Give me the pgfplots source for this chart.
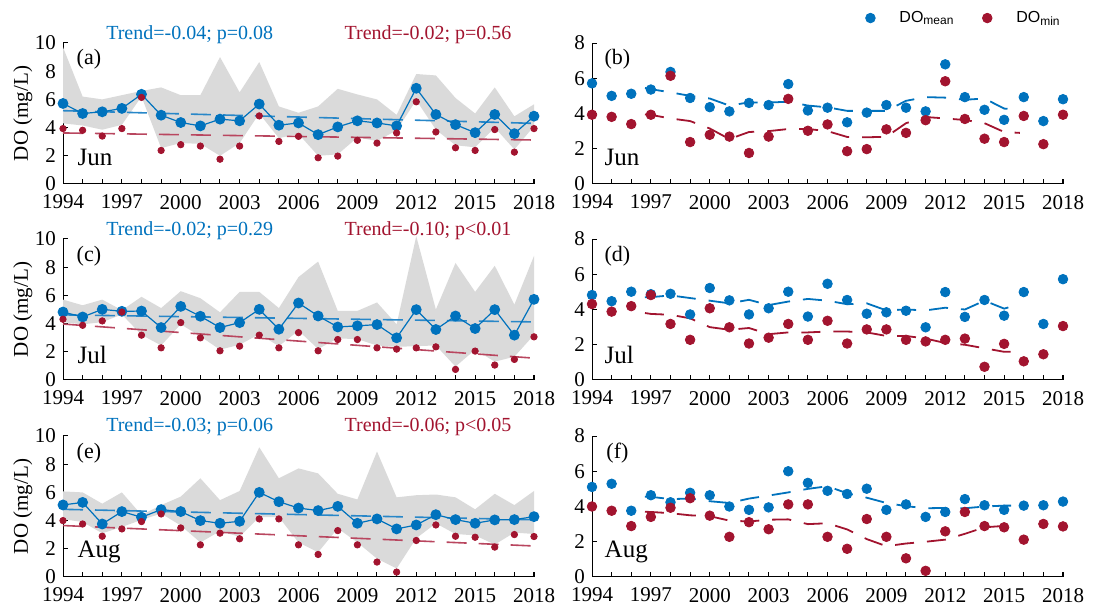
\documentclass[border=0pt]{standalone}
\usepackage{fontspec}
\setmainfont{Liberation Serif}
\newfontfamily\legendfont{Liberation Sans}
\usepackage{pgfplots}
\usepackage{pgfplotstable}
\pgfplotsset{compat=1.18}
\definecolor{cblue}{RGB}{0,114,189}
\definecolor{cred}{RGB}{162,20,47}
\definecolor{band}{RGB}{218,218,218}
\definecolor{tblue}{RGB}{40,135,200}
\definecolor{tred}{RGB}{185,70,95}

% Jun: year, mean DO, min DO
\pgfplotstableread{
year mean min
1994 5.71 3.93
1995 5.00 3.81
1996 5.12 3.40
1997 5.36 3.93
1998 6.36 6.14
1999 4.88 2.38
2000 4.36 2.79
2001 4.12 2.69
2002 4.60 1.76
2003 4.48 2.69
2004 5.67 4.83
2005 4.17 3.02
2006 4.33 3.38
2007 3.50 1.86
2008 4.05 1.98
2009 4.48 3.10
2010 4.33 2.90
2011 4.12 3.62
2012 6.79 5.83
2013 4.93 3.69
2014 4.21 2.57
2015 3.64 2.38
2016 4.93 3.86
2017 3.57 2.26
2018 4.81 3.93
}\jun
% Jun range band: upper edge 1994->2018, then lower edge 2018->1994
\pgfplotstableread{
x y
1994 9.70
1995 6.20
1996 6.00
1997 6.30
1998 6.60
1999 6.85
2000 6.30
2001 6.30
2002 9.00
2003 6.50
2004 8.65
2005 5.50
2006 5.05
2007 5.50
2008 6.75
2009 6.35
2010 6.00
2011 4.90
2012 7.80
2013 7.70
2014 6.10
2015 5.00
2016 6.85
2017 4.80
2018 5.65
2018 4.10
2017 2.45
2016 4.00
2015 2.60
2014 2.75
2013 3.85
2012 5.95
2011 3.80
2010 3.05
2009 3.30
2008 2.10
2007 2.00
2006 3.55
2005 3.25
2004 5.00
2003 2.90
2002 2.00
2001 2.85
2000 2.90
1999 2.55
1998 6.20
1997 4.20
1996 3.85
1995 4.15
1994 4.30
}\junB
\pgfplotstableread{
year sm smn
1996.7 5.45 3.95
1997 5.38 3.92
1998 5.20 3.72
1999 5.00 3.57
2000 4.85 3.15
2001 4.45 2.55
2002 4.63 2.95
2003 4.62 3.00
2004 4.67 3.12
2005 4.45 3.12
2006 4.35 3.00
2007 4.15 2.67
2008 4.15 2.65
2009 4.15 2.68
2010 4.72 3.45
2011 4.93 3.80
2012 4.90 3.72
2013 4.78 3.63
2014 4.85 3.45
2015 4.28 2.95
2015.8 4.20 2.90
}\junS
% Jul
\pgfplotstableread{
year mean min
1994 4.82 4.31
1995 4.47 3.88
1996 5.01 4.19
1997 4.87 4.82
1998 4.89 3.18
1999 3.72 2.28
2000 5.22 4.07
2001 4.52 2.99
2002 3.72 2.07
2003 4.07 2.40
2004 5.01 3.18
2005 3.60 2.28
2006 5.46 3.36
2007 4.54 2.07
2008 3.76 2.87
2009 3.84 2.87
2010 3.93 2.28
2011 2.99 2.19
2012 4.99 2.28
2013 3.58 2.35
2014 4.54 0.75
2015 3.65 2.05
2016 4.99 1.06
2017 3.18 1.46
2018 5.72 3.06
}\jul
\pgfplotstableread{
x y
1994 5.70
1995 5.30
1996 5.70
1997 4.95
1998 5.90
1999 5.10
2000 6.30
2001 5.80
2002 4.80
2003 6.25
2004 6.25
2005 5.10
2006 7.30
2007 8.40
2008 4.90
2009 4.90
2010 5.50
2011 3.95
2012 10.20
2013 5.00
2014 8.30
2015 6.25
2016 8.10
2017 5.35
2018 8.80
2018 3.20
2017 1.65
2016 1.30
2015 2.15
2014 0.95
2013 2.45
2012 2.40
2011 2.35
2010 2.45
2009 2.90
2008 2.95
2007 2.20
2006 3.50
2005 2.40
2004 3.25
2003 2.50
2002 2.15
2001 3.10
2000 3.95
1999 2.45
1998 3.20
1997 4.65
1996 4.10
1995 3.95
1994 4.10
}\julB
\pgfplotstableread{
year sm smn
1996.7 4.70 3.80
1997 4.70 3.75
1998 4.80 3.70
1999 4.65 3.50
2000 4.50 3.00
2001 4.35 2.85
2002 4.55 2.95
2003 4.25 2.60
2004 4.45 2.70
2005 4.60 2.70
2006 4.50 2.75
2007 4.30 2.75
2008 4.35 2.70
2009 3.95 2.50
2010 4.00 2.50
2011 3.95 2.35
2012 4.10 2.10
2013 4.00 2.00
2014 4.50 1.80
2015 4.05 1.60
2015.8 4.30 1.60
}\julS
% Aug
\pgfplotstableread{
year mean min
1994 5.11 4.00
1995 5.29 3.76
1996 3.76 2.89
1997 4.64 3.41
1998 4.24 3.93
1999 4.78 4.47
2000 4.64 3.48
2001 4.00 2.28
2002 3.81 3.11
2003 3.95 2.71
2004 6.00 4.12
2005 5.34 4.12
2006 4.89 2.28
2007 4.71 1.60
2008 5.01 3.29
2009 3.81 2.28
2010 4.12 1.06
2011 3.41 0.35
2012 3.69 2.59
2013 4.42 3.69
2014 4.07 2.89
2015 3.81 2.82
2016 4.05 2.12
2017 4.07 3.01
2018 4.28 2.87
}\aug
\pgfplotstableread{
x y
1994 6.07
1995 6.00
1996 5.20
1997 6.00
1998 4.40
1999 5.10
2000 5.70
2001 7.00
2002 5.45
2003 6.10
2004 9.20
2005 7.00
2006 7.70
2007 7.35
2008 5.90
2009 5.50
2010 8.90
2011 5.65
2012 5.80
2013 5.85
2014 5.65
2015 4.80
2016 5.90
2017 5.10
2018 6.10
2018 3.05
2017 3.15
2016 2.30
2015 2.95
2014 3.05
2013 3.80
2012 2.75
2011 0.60
2010 1.30
2009 2.45
2008 3.45
2007 1.75
2006 2.45
2005 4.25
2004 4.25
2003 2.85
2002 3.25
2001 2.45
2000 3.65
1999 4.50
1998 4.05
1997 3.55
1996 3.10
1995 3.90
1994 4.10
}\augB
\pgfplotstableread{
year sm smn
1996.7 4.55 3.70
1997 4.55 3.69
1998 4.42 3.62
1999 4.45 3.50
2000 4.30 3.45
2001 4.20 3.20
2002 4.45 3.15
2003 4.62 3.25
2004 4.80 3.27
2005 5.00 3.00
2006 5.15 3.05
2007 4.75 2.70
2008 4.50 2.15
2009 4.20 1.75
2010 4.02 1.90
2011 3.90 2.00
2012 3.92 2.12
2013 3.90 2.45
2014 4.00 2.82
2015 4.05 2.90
2015.8 4.05 2.90
}\augS

\pgfplotsset{
  base/.style={
    scale only axis, width=235.5pt, height=70.5pt, anchor=south west,
    xmin=1994, xmax=2018, ymin=0,
    axis lines*=left, axis line style={line width=0.5pt},
    xtick={1994,1997,...,2018}, minor xtick={1994,...,2018},
    tick align=inside, major tick length=2.5pt, minor tick length=2.5pt,
    tick style={black, line width=0.5pt},
    ticklabel style={font=\fontsize{10.5}{12}\selectfont},
    xticklabel style={yshift=-2pt},
    /pgf/number format/assume math mode=true,
    /pgf/number format/1000 sep={},
    clip=false,
  },
  leftp/.style={base, ymax=10, ytick={0,2,...,10},
    ylabel={DO (mg/L)},
    ylabel style={font=\fontsize{10.5}{12}\selectfont, at={(axis description cs:-0.085,0.5)}, anchor=center}},
  rightp/.style={base, ymax=8, ytick={0,2,...,8}},
  trendb/.style={tblue, line width=0.8pt, dash pattern=on 10pt off 6pt},
  trendr/.style={tred, line width=0.8pt, dash pattern=on 10pt off 6pt},
  smb/.style={cblue, line width=0.9pt, dash pattern=on 9.5pt off 6.5pt},
  smr/.style={cred, line width=0.9pt, dash pattern=on 9.5pt off 6.5pt},
  dotimg/.style={legend image code/.code={%
    \draw[mark repeat=2,mark phase=2,##1] plot coordinates {(-5pt,0pt) (0pt,0pt) (5pt,0pt)};
    \path[draw=none,fill=none] (0pt,0pt) (12.5pt,0pt);}},
}
\newcommand{\trendfont}{\fontsize{10}{12}\selectfont}
\newcommand{\panfont}{\fontsize{11}{13}\selectfont}
\newcommand{\monfont}{\fontsize{12.5}{15}\selectfont}

\begin{document}
\begin{tikzpicture}

% ---------- (a) ----------
\begin{axis}[leftp, at={(31.5pt,213.5pt)}]
\addplot[fill=band, draw=none] table[x=x,y=y]{\junB} -- cycle;
\addplot[trendb] coordinates {(1994,5.20) (2018,4.30)};
\addplot[trendr] coordinates {(1994,3.62) (2018,3.12)};
\addplot[cblue, line width=0.6pt, mark=*, mark size=2.4pt] table[x=year,y=mean]{\jun};
\addplot[cred, only marks, mark=*, mark size=1.6pt] table[x=year,y=min]{\jun};
\node[cblue, font=\trendfont] at (rel axis cs:0.269,1.057) {Trend=-0.04; p=0.08};
\node[cred, font=\trendfont] at (rel axis cs:0.775,1.057) {Trend=-0.02; p=0.56};
\node[font=\panfont] at (rel axis cs:0.055,0.886) {(a)};
\node[font=\monfont, anchor=west] at (rel axis cs:0.016,0.19) {Jun};
\end{axis}

% ---------- (b) ----------
\begin{axis}[rightp, at={(296pt,213.5pt)},
  legend columns=2,
  legend style={draw=none, fill=none, font=\legendfont\fontsize{8}{9}\selectfont,
    at={(1.017,1.177)}, anchor=east,
    /tikz/every even column/.append style={column sep=12pt}}]
\addplot[cblue, only marks, mark=*, mark size=2.4pt, dotimg] table[x=year,y=mean]{\jun};
\addplot[cred, only marks, mark=*, mark size=2.4pt, dotimg] table[x=year,y=min]{\jun};
\addplot[smb, forget plot] table[x=year,y=sm]{\junS};
\addplot[smr, forget plot] table[x=year,y=smn]{\junS};
\legend{DO\textsubscript{mean}, DO\textsubscript{min}}
\node[font=\panfont] at (rel axis cs:0.054,0.886) {(b)};
\node[font=\monfont, anchor=west] at (rel axis cs:0.012,0.19) {Jun};
\end{axis}

% ---------- (c) ----------
\begin{axis}[leftp, at={(31.5pt,115.5pt)}]
\addplot[fill=band, draw=none] table[x=x,y=y]{\julB} -- cycle;
\addplot[trendb] coordinates {(1994,4.62) (2018,4.12)};
\addplot[trendr] coordinates {(1994,3.97) (2018,1.55)};
\addplot[cblue, line width=0.6pt, mark=*, mark size=2.4pt] table[x=year,y=mean]{\jul};
\addplot[cred, only marks, mark=*, mark size=1.6pt] table[x=year,y=min]{\jul};
\node[cblue, font=\trendfont] at (rel axis cs:0.269,1.06) {Trend=-0.02; p=0.29};
\node[cred, font=\trendfont] at (rel axis cs:0.775,1.06) {Trend=-0.10; p<0.01};
\node[font=\panfont] at (rel axis cs:0.055,0.88) {(c)};
\node[font=\monfont, anchor=west] at (rel axis cs:0.016,0.18) {Jul};
\end{axis}

% ---------- (d) ----------
\begin{axis}[rightp, at={(296pt,115.5pt)}]
\addplot[cblue, only marks, mark=*, mark size=2.4pt] table[x=year,y=mean]{\jul};
\addplot[cred, only marks, mark=*, mark size=2.4pt] table[x=year,y=min]{\jul};
\addplot[smb] table[x=year,y=sm]{\julS};
\addplot[smr] table[x=year,y=smn]{\julS};
\node[font=\panfont] at (rel axis cs:0.054,0.88) {(d)};
\node[font=\monfont, anchor=west] at (rel axis cs:0.012,0.18) {Jul};
\end{axis}

% ---------- (e) ----------
\begin{axis}[leftp, at={(31.5pt,17pt)}]
\addplot[fill=band, draw=none] table[x=x,y=y]{\augB} -- cycle;
\addplot[trendb] coordinates {(1994,4.80) (2018,4.06)};
\addplot[trendr] coordinates {(1994,3.65) (2018,2.20)};
\addplot[cblue, line width=0.6pt, mark=*, mark size=2.4pt] table[x=year,y=mean]{\aug};
\addplot[cred, only marks, mark=*, mark size=1.6pt] table[x=year,y=min]{\aug};
\node[cblue, font=\trendfont] at (rel axis cs:0.269,1.064) {Trend=-0.03; p=0.06};
\node[cred, font=\trendfont] at (rel axis cs:0.775,1.064) {Trend=-0.06; p<0.05};
\node[font=\panfont] at (rel axis cs:0.055,0.88) {(e)};
\node[font=\monfont, anchor=west] at (rel axis cs:0.016,0.18) {Aug};
\end{axis}

% ---------- (f) ----------
\begin{axis}[rightp, at={(296pt,17pt)}]
\addplot[cblue, only marks, mark=*, mark size=2.4pt] table[x=year,y=mean]{\aug};
\addplot[cred, only marks, mark=*, mark size=2.4pt] table[x=year,y=min]{\aug};
\addplot[smb] table[x=year,y=sm]{\augS};
\addplot[smr] table[x=year,y=smn]{\augS};
\node[font=\panfont] at (rel axis cs:0.054,0.88) {(f)};
\node[font=\monfont, anchor=west] at (rel axis cs:0.012,0.18) {Aug};
\end{axis}

\path[use as bounding box] (0,0) rectangle (546.5pt,305.5pt);
\end{tikzpicture}
\end{document}
